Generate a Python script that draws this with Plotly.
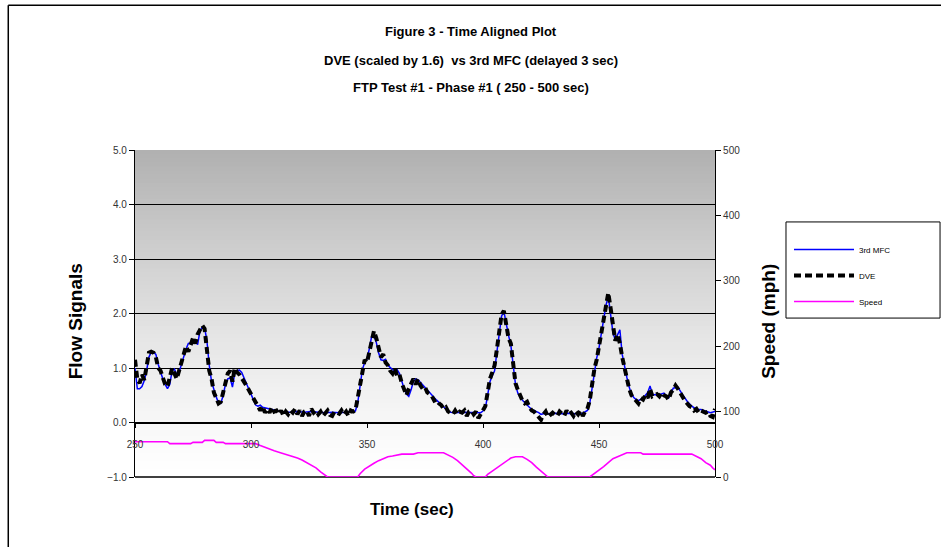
import plotly.graph_objects as go

# ---------------- data ----------------
title_lines = ["Figure 3 - Time Aligned Plot",
               "DVE (scaled by 1.6)  vs 3rd MFC (delayed 3 sec)",
               "FTP Test #1 - Phase #1 ( 250 - 500 sec)"]

mfc_time = [250, 251, 252, 253, 254, 255, 256, 257, 258, 259, 260, 261, 262, 263, 264, 265, 266, 267, 268, 269,
            270, 271, 272, 273, 274, 275, 276, 277, 278, 279, 280, 281, 282, 283, 284, 285, 286, 287, 288, 289,
            290, 291, 292, 293, 294, 295, 296, 297, 298, 299, 300, 301, 302, 303, 304, 305, 306, 307, 308, 310,
            312, 314, 317, 320, 323, 326, 329, 332, 335, 338, 341, 344, 345, 346, 347, 348, 349, 350, 351, 352,
            353, 354, 355, 356, 357, 358, 359, 360, 361, 362, 363, 364, 365, 366, 367, 368, 369, 370, 371, 372,
            373, 374, 375, 376, 377, 378, 379, 380, 381, 382, 383, 384, 385, 386, 388, 391, 394, 397, 399, 400,
            401, 402, 403, 404, 405, 406, 407, 408, 409, 410, 411, 412, 413, 414, 415, 416, 417, 418, 419, 420,
            421, 422, 423, 424, 425, 426, 428, 431, 434, 437, 440, 443, 445, 446, 447, 448, 449, 450, 451, 452,
            453, 454, 455, 456, 457, 458, 459, 460, 461, 462, 463, 464, 465, 466, 467, 468, 469, 470, 471, 472,
            473, 474, 476, 478, 480, 482, 484, 486, 488, 490, 492, 494, 496, 498, 500]
mfc_flow = [1.00, 0.62, 0.62, 0.66, 0.77, 0.95, 1.20, 1.29, 1.29, 1.25, 1.07, 0.92, 0.80, 0.70, 0.62, 0.70, 0.95, 0.98, 0.88, 0.92,
            1.07, 1.18, 1.35, 1.45, 1.46, 1.50, 1.48, 1.43, 1.68, 1.75, 1.74, 1.50, 1.05, 0.75, 0.60, 0.47, 0.36, 0.35, 0.50, 0.70,
            0.80, 0.82, 0.65, 0.90, 0.95, 0.96, 0.92, 0.83, 0.72, 0.62, 0.52, 0.43, 0.32, 0.30, 0.32, 0.28, 0.27, 0.26, 0.24, 0.22,
            0.21, 0.19, 0.19, 0.20, 0.19, 0.20, 0.19, 0.18, 0.19, 0.18, 0.19, 0.20, 0.21, 0.36, 0.71, 0.97, 1.10, 1.16, 1.35, 1.58,
            1.60, 1.47, 1.28, 1.15, 1.14, 1.16, 1.05, 1.00, 0.97, 0.95, 0.97, 0.90, 0.75, 0.62, 0.52, 0.48, 0.60, 0.75, 0.80, 0.78,
            0.74, 0.69, 0.65, 0.61, 0.56, 0.50, 0.45, 0.41, 0.37, 0.32, 0.29, 0.25, 0.21, 0.19, 0.18, 0.19, 0.19, 0.19, 0.18, 0.21,
            0.26, 0.50, 0.75, 0.86, 0.95, 1.30, 1.65, 1.95, 2.04, 1.80, 1.60, 1.42, 1.10, 0.70, 0.54, 0.46, 0.41, 0.36, 0.32, 0.28,
            0.24, 0.22, 0.21, 0.18, 0.15, 0.16, 0.16, 0.17, 0.16, 0.17, 0.16, 0.17, 0.22, 0.35, 0.62, 0.95, 1.18, 1.37, 1.65, 1.90,
            2.15, 2.32, 2.00, 1.65, 1.52, 1.60, 1.70, 1.25, 1.00, 0.83, 0.65, 0.52, 0.46, 0.42, 0.40, 0.42, 0.45, 0.50, 0.55, 0.67,
            0.52, 0.51, 0.51, 0.54, 0.45, 0.63, 0.65, 0.51, 0.39, 0.30, 0.24, 0.24, 0.21, 0.18, 0.20]

dve_time = list(range(250, 501))
dve_flow = [1.15, 0.80, 0.72, 0.88, 0.78, 1.05, 1.28, 1.30, 1.28, 1.20,   # 250
            1.00, 0.95, 0.82, 0.70, 0.66, 0.85, 1.00, 0.90, 0.80, 0.95,   # 260
            1.10, 1.20, 1.40, 1.30, 1.45, 1.55, 1.45, 1.62, 1.70, 1.78,   # 270
            1.72, 1.40, 0.95, 0.80, 0.55, 0.45, 0.35, 0.38, 0.55, 0.75,   # 280
            0.90, 0.95, 0.75, 1.00, 0.92, 0.88, 0.82, 0.75, 0.68, 0.60,   # 290
            0.52, 0.45, 0.38, 0.28, 0.22, 0.30, 0.18, 0.25, 0.18, 0.28,   # 300
            0.20, 0.22, 0.15, 0.22, 0.12, 0.20, 0.15, 0.22, 0.18, 0.25,   # 310
            0.15, 0.22, 0.12, 0.20, 0.22, 0.12, 0.25, 0.18, 0.22, 0.15,   # 320
            0.20, 0.12, 0.18, 0.22, 0.14, 0.12, 0.20, 0.18, 0.16, 0.22,   # 330
            0.15, 0.20, 0.12, 0.22, 0.20, 0.22, 0.45, 0.75, 1.00, 1.15,   # 340
            1.10, 1.30, 1.55, 1.68, 1.55, 1.35, 1.20, 1.25, 1.10, 1.05,   # 350
            0.95, 0.90, 1.00, 0.85, 0.88, 0.72, 0.58, 0.50, 0.62, 0.72,   # 360
            0.80, 0.70, 0.80, 0.68, 0.62, 0.65, 0.55, 0.52, 0.48, 0.40,   # 370
            0.42, 0.35, 0.32, 0.25, 0.28, 0.20, 0.18, 0.15, 0.22, 0.15,   # 380
            0.20, 0.18, 0.22, 0.12, 0.20, 0.22, 0.15, 0.20, 0.08, 0.15,   # 390
            0.22, 0.30, 0.55, 0.80, 0.92, 1.05, 1.35, 1.70, 1.98, 2.05,   # 400
            1.75, 1.55, 1.45, 1.10, 0.72, 0.60, 0.50, 0.40, 0.35, 0.38,   # 410
            0.28, 0.22, 0.20, 0.15, 0.12, 0.05, 0.15, 0.20, 0.10, 0.15,   # 420
            0.18, 0.14, 0.12, 0.20, 0.15, 0.12, 0.22, 0.15, 0.18, 0.12,   # 430
            0.20, 0.15, 0.22, 0.12, 0.20, 0.25, 0.40, 0.70, 0.98, 1.15,   # 440
            1.40, 1.62, 1.95, 2.20, 2.38, 2.10, 1.75, 1.50, 1.62, 1.45,   # 450
            1.20, 1.00, 0.85, 0.62, 0.50, 0.45, 0.40, 0.35, 0.45, 0.42,   # 460
            0.50, 0.45, 0.62, 0.48, 0.50, 0.52, 0.48, 0.55, 0.50, 0.48,   # 470
            0.42, 0.55, 0.60, 0.68, 0.62, 0.55, 0.45, 0.40, 0.35, 0.30,   # 480
            0.28, 0.22, 0.25, 0.18, 0.22, 0.20, 0.18, 0.20, 0.12, 0.10,   # 490
            0.25]                                                         # 500

speed_time = [250, 264, 265, 274, 275, 279, 280, 284, 285, 288, 289, 302, 304, 306, 308, 310, 312, 314, 316, 318,
              320, 322, 324, 326, 328, 330, 332, 333, 346, 347, 349, 351, 353, 355, 357, 359, 361, 363, 365, 370,
              372, 383, 385, 387, 389, 391, 393, 395, 396, 397, 401, 402, 404, 406, 408, 410, 412, 414, 417, 419,
              421, 423, 425, 427, 428, 446, 448, 450, 452, 454, 456, 458, 460, 462, 468, 469, 490, 492, 494, 496,
              498, 499, 500]
speed_mph = [54, 54, 51, 51, 53, 53, 56, 56, 53, 53, 51, 51, 48, 45, 43, 40, 38, 36, 34, 32,
             29, 26, 22, 18, 14, 8, 2, 0, 0, 5, 12, 17, 21, 25, 28, 31, 32, 34, 35, 35,
             37, 37, 34, 30, 25, 19, 13, 6, 2, 0, 0, 4, 9, 14, 19, 24, 29, 31, 31, 27,
             22, 15, 9, 3, 0, 0, 5, 11, 16, 22, 28, 31, 34, 37, 37, 35, 35, 32, 28, 22,
             18, 14, 11]

x_ticks = [250, 300, 350, 400, 450, 500]

# ---------------- figure ----------------
FONT = "Arial, Liberation Sans, sans-serif"
fig = go.Figure()

fig.add_trace(go.Scatter(x=mfc_time, y=mfc_flow, name="3rd MFC", mode="lines", legendgroup="a",
                         line=dict(color="#0000ff", width=1.5)))
fig.add_trace(go.Scatter(x=dve_time, y=dve_flow, name="DVE", mode="lines", legendgroup="b",
                         line=dict(color="#000000", width=4, dash="7px,4px")))
fig.add_trace(go.Scatter(x=speed_time, y=speed_mph, name="Speed", mode="lines", yaxis="y2", legendgroup="c",
                         line=dict(color="#ff00ff", width=1.6), cliponaxis=False))

# gradient plot-area background (overlapping strips)
N = 80
shapes = []
for i in range(N):
    f = (i + 0.5) / N  # 0 bottom -> 1 top
    c = int(round(255 - (255 - 176) * f ** 1.3))
    shapes.append(dict(type="rect", xref="x domain", yref="y domain",
                       x0=0, x1=1, y0=i / N, y1=min(1.0, (i + 1.6) / N),
                       fillcolor=f"rgb({c},{c},{c})", line=dict(width=0), layer="below"))
# bottom border of plot area
shapes.append(dict(type="line", xref="x domain", yref="y domain", x0=0, x1=1, y0=0, y1=0,
                   line=dict(color="black", width=1.5), layer="below"))
# outer frame (left and top)
shapes.append(dict(type="line", xref="paper", yref="paper", x0=-0.2185, x1=-0.2185, y0=1.443, y1=-0.25,
                   line=dict(color="black", width=1.5)))
shapes.append(dict(type="line", xref="paper", yref="paper", x0=-0.2185, x1=1.5, y0=1.443, y1=1.443,
                   line=dict(color="black", width=1.5)))
# legend frame
shapes.append(dict(type="rect", xref="paper", yref="paper", x0=1.1224, x1=1.388, y0=0.486, y1=0.78,
                   fillcolor="white", line=dict(color="black", width=1)))

annotations = []
for txt, yy in zip(title_lines, [1.361, 1.275, 1.190]):
    annotations.append(dict(text=f"<b>{txt}</b>", xref="paper", yref="paper", x=0.579, y=yy,
                            showarrow=False, font=dict(family=FONT, size=13, color="black"),
                            xanchor="center", yanchor="middle"))
annotations.append(dict(text="<b>Flow Signals</b>", xref="paper", yref="paper", x=-0.103, y=0.477,
                        textangle=-90, showarrow=False, xanchor="center", yanchor="middle",
                        font=dict(family=FONT, size=19, color="black")))
annotations.append(dict(text="<b>Speed (mph)</b>", xref="paper", yref="paper", x=1.091, y=0.477,
                        textangle=-90, showarrow=False, xanchor="center", yanchor="middle",
                        font=dict(family=FONT, size=19, color="black")))
annotations.append(dict(text="<b>Time (sec)</b>", xref="paper", yref="paper", x=0.478, y=-0.098,
                        showarrow=False, xanchor="center", yanchor="middle",
                        font=dict(family=FONT, size=17, color="black")))

tickfont = dict(family=FONT, size=10, color="#333333")
fig.update_layout(
    width=941, height=547, autosize=False,
    margin=dict(l=135, r=226, t=150, b=70),
    paper_bgcolor="white", plot_bgcolor="white",
    font=dict(family=FONT),
    shapes=shapes, annotations=annotations,
    xaxis=dict(range=[250, 500], tickvals=x_ticks, ticks="outside", ticklen=4, tickcolor="black",
               showline=True, linecolor="black", linewidth=1.2, showgrid=False, zeroline=False,
               anchor="free", position=1 / 6, tickfont=tickfont, ticklabelstandoff=8),
    yaxis=dict(range=[-1, 5], dtick=1, tickformat=".1f", ticks="outside", ticklen=5, tickcolor="black",
               showline=True, linecolor="black", linewidth=1.2, showgrid=True, gridcolor="black",
               gridwidth=1, zeroline=False, tickfont=tickfont),
    yaxis2=dict(range=[0, 500], dtick=100, overlaying="y", side="right", ticks="outside", ticklen=5,
                tickcolor="black", showline=True, linecolor="black", linewidth=1.2, showgrid=False,
                zeroline=False, tickfont=tickfont),
    legend=dict(x=1.1276, y=0.740, xanchor="left", yanchor="top", bgcolor="rgba(0,0,0,0)",
                borderwidth=0, font=dict(family=FONT, size=8, color="black"),
                itemwidth=60, tracegroupgap=7),
    showlegend=True,
)

fig.write_html("out.html", config={"displayModeBar": False},
               post_script="document.body.style.margin='0';")
